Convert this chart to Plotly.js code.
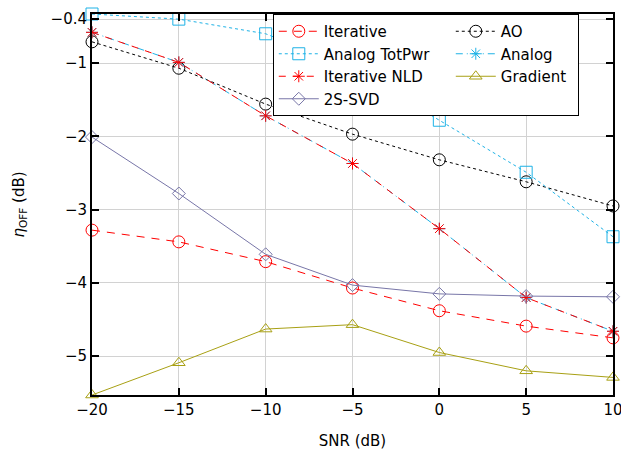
<!DOCTYPE html>
<html>
<head>
<meta charset="utf-8">
<script src="https://cdn.plot.ly/plotly-3.0.1.min.js"></script>
<style>html,body{margin:0;padding:0;background:#fff;}</style>
</head>
<body>
<div id="chart" style="width:621px;height:450px;"></div>
<script>
const snr = [-20, -15, -10, -5, 0, 5, 10];
const iterative = [-3.28, -3.44, -3.71, -4.07, -4.38, -4.59, -4.75];
const ao = [-0.71, -1.07, -1.56, -1.97, -2.32, -2.62, -2.95];
const analogTotPwr = [-0.33, -0.40, -0.60, -1.07, -1.78, -2.49, -3.37];
const analog = [-0.58, -0.99, -1.72, -2.37, -3.26, -4.20, -4.66];
const iterativeNLD = [-0.58, -0.99, -1.72, -2.37, -3.26, -4.20, -4.66];
const gradient = [-5.53, -5.09, -4.63, -4.57, -4.95, -5.20, -5.29];
const svd2s = [-2.01, -2.78, -3.61, -4.03, -4.15, -4.18, -4.19];
const xTicks = [-20, -15, -10, -5, 0, 5, 10];
const xTickText = ['\u221220', '\u221215', '\u221210', '\u22125', '0', '5', '10'];
const yTicks = [-0.4, -1, -2, -3, -4, -5];
const yTickText = ['\u22120.4', '\u22121', '\u22122', '\u22123', '\u22124', '\u22125'];

const red = 'rgb(255,0,0)';
const cyan = 'rgb(30,178,230)';
const olive = 'rgb(168,160,20)';
const purple = 'rgb(120,118,168)';

function tr(name, y, color, dash, symbol, size, lw) {
  return {
    x: snr, y: y, name: name, type: 'scatter', mode: 'lines+markers',
    cliponaxis: false, legendwidth: lw,
    line: {color: color, width: 1, dash: dash},
    marker: {symbol: symbol, size: size, color: color, line: {color: color, width: 1}}
  };
}

const data = [
  tr('Iterative', iterative, red, '8px,7px', 'circle-open', 12, 122),
  tr('AO', ao, 'black', 'dot', 'circle-open', 12, 72),
  tr('Analog TotPwr', analogTotPwr, cyan, 'dot', 'square-open', 12, 122),
  tr('Analog', analog, cyan, '7px,4px,1px,4px', 'asterisk-open', 10, 72),
  tr('Iterative NLD', iterativeNLD, red, '7px,7px', 'asterisk-open', 10, 122),
  tr('Gradient', gradient, olive, 'solid', 'triangle-up-open', 11, 72),
  tr('2S-SVD', svd2s, purple, 'solid', 'diamond-open', 10, 122)
];

const font = {family: 'DejaVu Sans, sans-serif', size: 15, color: 'black'};

const layout = {
  width: 621, height: 450,
  margin: {l: 92, r: 8, t: 14, b: 55, autoexpand: false},
  paper_bgcolor: 'white', plot_bgcolor: 'white',
  font: font,
  showlegend: true,
  legend: {
    orientation: 'h', x: 0.347, xanchor: 'left', y: 1, yanchor: 'top',
    bgcolor: 'white', bordercolor: 'black', borderwidth: 1,
    itemwidth: 40, font: font
  },
  xaxis: {
    range: [-20, 10], tickvals: xTicks, ticktext: xTickText,
    ticklabeloverflow: 'allow',
    showgrid: true, gridcolor: 'rgb(210,210,210)', gridwidth: 1,
    zeroline: false, showline: true, linecolor: 'black', linewidth: 2, mirror: 'ticks',
    ticks: 'inside', ticklen: 7, tickwidth: 2, tickcolor: 'black',
    title: {text: 'SNR (dB)', font: font, standoff: 17},
    tickfont: font
  },
  yaxis: {
    range: [-5.53, -0.33], tickvals: yTicks, ticktext: yTickText,
    showgrid: true, gridcolor: 'rgb(210,210,210)', gridwidth: 1,
    zeroline: false, showline: true, linecolor: 'black', linewidth: 2, mirror: 'ticks',
    ticks: 'inside', ticklen: 7, tickwidth: 2, tickcolor: 'black',
    title: {text: '<i>\u03b7</i><sub>OFF</sub> (dB)', font: font, standoff: 22},
    tickfont: font
  }
};

Plotly.newPlot('chart', data, layout, {displayModeBar: false, staticPlot: true});
</script>
</body>
</html>
